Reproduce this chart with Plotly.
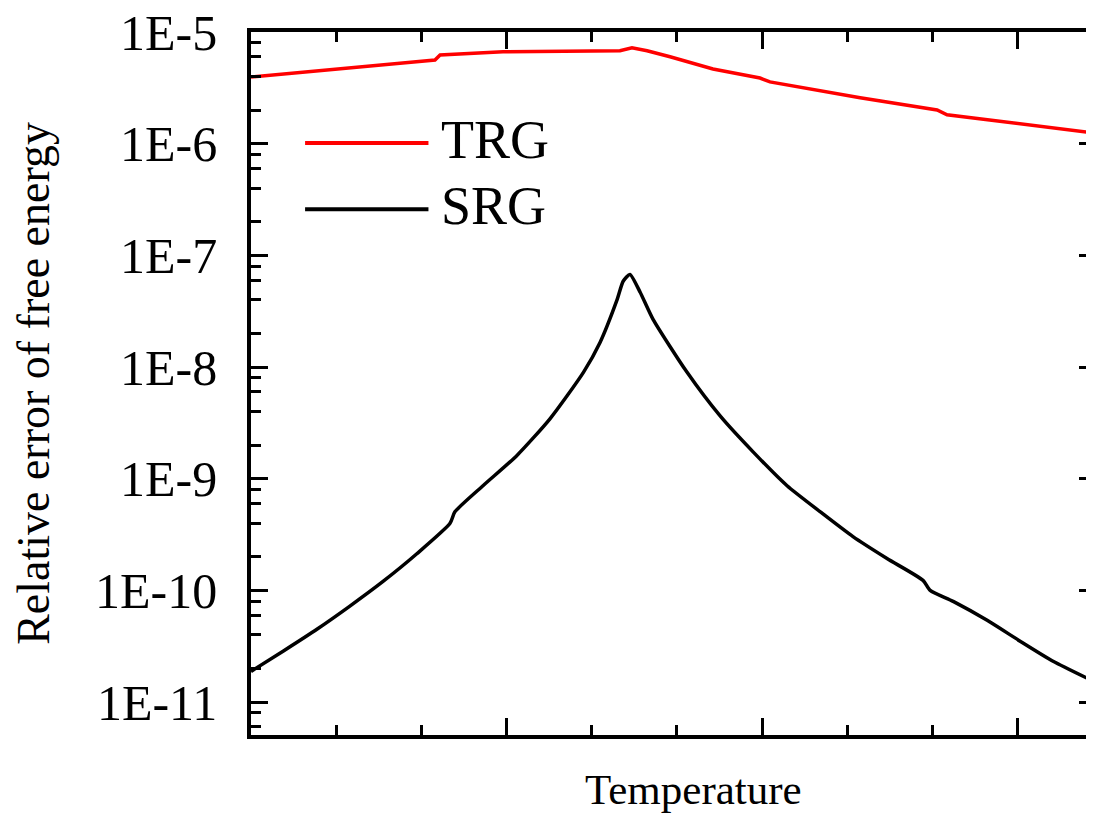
import plotly.graph_objects as go

# ---------------- data ----------------
trg_T = [0.0, 0.192, 0.387, 0.583, 0.720, 0.740, 0.986, 1.299, 1.444, 1.491,
         1.550, 1.640, 1.808, 1.992, 2.031, 2.384, 2.685, 2.724, 3.037, 3.296]
trg_err = [3.96e-6, 4.37e-6, 4.80e-6, 5.27e-6, 5.62e-6, 6.24e-6, 6.67e-6, 6.81e-6, 6.81e-6, 7.24e-6,
           6.81e-6, 6.01e-6, 4.68e-6, 3.88e-6, 3.58e-6, 2.58e-6, 2.01e-6, 1.82e-6, 1.48e-6, 1.25e-6]

srg_T = [0.0, 0.127, 0.258, 0.387, 0.518, 0.649, 0.779, 0.798, 0.909, 1.040,
         1.170, 1.301, 1.366, 1.431, 1.457, 1.483, 1.523, 1.573, 1.706, 1.836,
         1.965, 2.098, 2.227, 2.356, 2.489, 2.630, 2.658, 2.748, 2.881, 3.010,
         3.139, 3.296]
srg_err = [1.88e-11, 2.87e-11, 4.49e-11, 7.24e-11, 1.21e-10, 2.13e-10, 3.99e-10, 5.05e-10, 8.71e-10, 1.61e-9,
           3.44e-9, 8.97e-9, 1.66e-8, 3.91e-8, 5.90e-8, 6.76e-8, 4.68e-8, 2.69e-8, 9.02e-9, 3.65e-9,
           1.74e-9, 8.65e-10, 5.07e-10, 3.03e-10, 1.93e-10, 1.23e-10, 1.00e-10, 7.98e-11, 5.40e-11, 3.51e-11,
           2.32e-11, 1.54e-11]

y_tickvals = [1e-11, 1e-10, 1e-9, 1e-8, 1e-7, 1e-6, 1e-5]
y_ticktext = ["1E-11", "1E-10", "1E-9", "1E-8", "1E-7", "1E-6", "1E-5"]
x_tickvals = [1, 2, 3]

FONT = "Liberation Serif"

# minor ticks at 2,4,6,8 of each decade
y_minor = [m * 10.0 ** e for e in range(-12, -5) for m in (2, 4, 6, 8)]

fig = go.Figure()
fig.add_trace(go.Scatter(x=trg_T, y=trg_err, mode="lines", name="TRG",
                         line=dict(color="#ff0000", width=3.5)))
fig.add_trace(go.Scatter(x=srg_T, y=srg_err, mode="lines", name="SRG",
                         line=dict(color="#000000", width=3.5, shape="spline", smoothing=0.6)))

# hand-made legend (long line samples like the original)
legend_rows = [("TRG", "#ff0000", 0.842), ("SRG", "#000000", 0.748)]
for name, col, yy in legend_rows:
    fig.add_shape(type="line", xref="paper", yref="paper",
                  x0=0.064, x1=0.210, y0=yy, y1=yy,
                  line=dict(color=col, width=4))
    fig.add_annotation(xref="paper", yref="paper", x=0.223, y=yy + 0.004,
                       xanchor="left", yanchor="middle", showarrow=False,
                       text=name, font=dict(family=FONT, size=54, color="#000000"))

# x title sits off-centre in the (cropped) original
fig.add_annotation(xref="paper", yref="paper", x=0.524, y=-0.041,
                   xanchor="center", yanchor="top", showarrow=False,
                   text="Temperature", font=dict(family=FONT, size=43, color="#000000"))

# the page body has an 8px margin; figure runs slightly past the window on the right/bottom
fig.update_layout(
    width=1094, height=806,
    margin=dict(l=243, r=6, t=24, b=79),
    paper_bgcolor="white", plot_bgcolor="white",
    showlegend=False,
    font=dict(family=FONT, color="#000000"),
)

fig.update_xaxes(
    range=[0, 3.307], showgrid=False, zeroline=False, automargin=False,
    showline=True, linecolor="black", linewidth=3.5, mirror="ticks",
    ticks="inside", tickvals=x_tickvals, ticklen=17, tickwidth=3, tickcolor="black",
    showticklabels=False,
    minor=dict(ticks="inside", dtick=1 / 3, tick0=0, ticklen=10, tickwidth=3,
               tickcolor="black", showgrid=False),
)

fig.update_yaxes(
    type="log", range=[-11.295, -4.999], showgrid=False, zeroline=False, automargin=False,
    showline=True, linecolor="black", linewidth=3.5, mirror="ticks",
    ticks="inside", tickvals=y_tickvals, ticktext=y_ticktext,
    ticklen=17, tickwidth=3, tickcolor="black", ticklabeloverflow="allow",
    tickfont=dict(family=FONT, size=50), ticklabelstandoff=20,
    minor=dict(ticks="inside", tickmode="array", tickvals=y_minor, ticklen=10, tickwidth=3,
               tickcolor="black", showgrid=False),
    title=dict(text="Relative error of free energy", font=dict(family=FONT, size=46), standoff=33),
)

fig.write_html("out.html")
